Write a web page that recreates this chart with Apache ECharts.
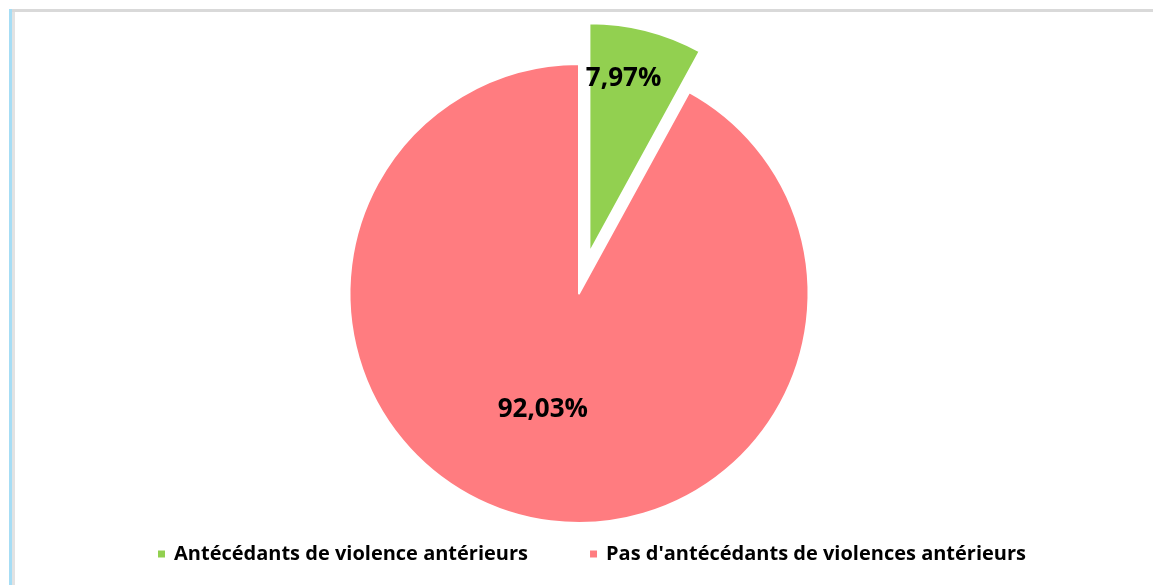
<!DOCTYPE html>
<html>
<head>
<meta charset="utf-8">
<script src="https://cdn.jsdelivr.net/npm/echarts@6/dist/echarts.min.js"></script>
<style>
  html, body { margin: 0; padding: 0; background: #ffffff; }
  #chart { width: 1155px; height: 585px; }
</style>
</head>
<body>
<div id="chart"></div>
<script>
// Share of cases with / without prior violence (percent)
const categories = ['Antécédants de violence antérieurs', "Pas d'antécédants de violences antérieurs"];
const values = [7.97, 92.03];
const colors = ['#92D050', '#FF7C80'];

const fmt = v => v.toFixed(2).replace('.', ',') + '%';

const chart = echarts.init(document.getElementById('chart'), null, { renderer: 'canvas' });

chart.setOption({
  backgroundColor: '#ffffff',
  animation: false,
  graphic: [
    // frame: grey top rule, blue + grey left rule
    { type: 'rect', shape: { x: 12, y: 9, width: 1141, height: 3 }, style: { fill: '#D9D9D9' }, silent: true },
    { type: 'rect', shape: { x: 9, y: 9, width: 3, height: 576 }, style: { fill: '#A6DDF5' }, silent: true },
    { type: 'rect', shape: { x: 12, y: 12, width: 3, height: 573 }, style: { fill: '#E2E2E2' }, silent: true }
  ],
  legend: {
    top: 539,
    left: 151,
    icon: 'rect',
    itemWidth: 9,
    itemHeight: 9,
    itemGap: 60,
    selectedMode: false,
    textStyle: {
      fontFamily: 'Open Sans',
      fontWeight: 'bold',
      fontSize: 20,
      color: '#000000',
      padding: [0, 0, 0, 3]
    },
    data: categories
  },
  series: [{
    type: 'pie',
    center: [579, 293.5],
    radius: 229.5,
    startAngle: 90,
    clockwise: true,
    selectedMode: 'single',
    selectedOffset: 42,
    itemStyle: { borderColor: '#ffffff', borderWidth: 2 },
    select: { itemStyle: { borderColor: '#ffffff', borderWidth: 2 } },
    emphasis: { disabled: true },
    label: {
      show: true,
      position: 'inside',
      fontFamily: 'Open Sans',
      fontWeight: 'bold',
      fontSize: 26,
      color: '#000000',
      formatter: p => fmt(p.value)
    },
    labelLine: { show: false },
    labelLayout: p => p.dataIndex === 0 ? { dx: 5, dy: -60 } : { dx: -7, dy: 2 },
    data: categories.map((name, i) => ({
      name: name,
      value: values[i],
      selected: i === 0,
      itemStyle: { color: colors[i] }
    }))
  }]
});
</script>
</body>
</html>
